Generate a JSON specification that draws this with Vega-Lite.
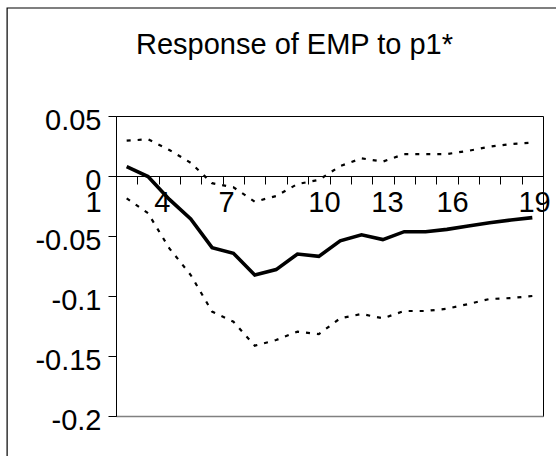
{
  "$schema": "https://vega.github.io/schema/vega-lite/v6.json",
  "width": 427,
  "height": 300,
  "autosize": {"type": "none"},
  "padding": {"left": 116, "top": 116, "right": 13, "bottom": 40},
  "background": "white",
  "title": {
    "text": "Response of EMP to p1*",
    "font": "Liberation Sans",
    "fontSize": 29,
    "fontWeight": "normal",
    "color": "black",
    "anchor": "middle",
    "frame": "group",
    "dx": -35,
    "offset": -53
  },
  "config": {
    "view": {"stroke": "black", "strokeWidth": 1},
    "font": "Liberation Sans",
    "axis": {
      "labelFont": "Liberation Sans",
      "labelFontSize": 29,
      "labelColor": "black",
      "domainColor": "black",
      "tickColor": "black",
      "grid": false,
      "title": null
    }
  },
  "datasets": {
    "irf": [
      {"period": 1, "series": "response", "value": 0.0078},
      {"period": 2, "series": "response", "value": -0.0005},
      {"period": 3, "series": "response", "value": -0.0195},
      {"period": 4, "series": "response", "value": -0.0358},
      {"period": 5, "series": "response", "value": -0.0597},
      {"period": 6, "series": "response", "value": -0.0644},
      {"period": 7, "series": "response", "value": -0.0825},
      {"period": 8, "series": "response", "value": -0.078},
      {"period": 9, "series": "response", "value": -0.065},
      {"period": 10, "series": "response", "value": -0.067},
      {"period": 11, "series": "response", "value": -0.054},
      {"period": 12, "series": "response", "value": -0.049},
      {"period": 13, "series": "response", "value": -0.053},
      {"period": 14, "series": "response", "value": -0.0464},
      {"period": 15, "series": "response", "value": -0.0464},
      {"period": 16, "series": "response", "value": -0.0445},
      {"period": 17, "series": "response", "value": -0.0417},
      {"period": 18, "series": "response", "value": -0.039},
      {"period": 19, "series": "response", "value": -0.0367},
      {"period": 20, "series": "response", "value": -0.0347},
      {"period": 1, "series": "upper", "value": 0.0294},
      {"period": 2, "series": "upper", "value": 0.0306},
      {"period": 3, "series": "upper", "value": 0.0217},
      {"period": 4, "series": "upper", "value": 0.011},
      {"period": 5, "series": "upper", "value": -0.006},
      {"period": 6, "series": "upper", "value": -0.0094},
      {"period": 7, "series": "upper", "value": -0.0214},
      {"period": 8, "series": "upper", "value": -0.0167},
      {"period": 9, "series": "upper", "value": -0.0067},
      {"period": 10, "series": "upper", "value": -0.0033},
      {"period": 11, "series": "upper", "value": 0.0083},
      {"period": 12, "series": "upper", "value": 0.0147},
      {"period": 13, "series": "upper", "value": 0.012},
      {"period": 14, "series": "upper", "value": 0.0183},
      {"period": 15, "series": "upper", "value": 0.0183},
      {"period": 16, "series": "upper", "value": 0.0183},
      {"period": 17, "series": "upper", "value": 0.021},
      {"period": 18, "series": "upper", "value": 0.0244},
      {"period": 19, "series": "upper", "value": 0.0267},
      {"period": 20, "series": "upper", "value": 0.0278},
      {"period": 1, "series": "lower", "value": -0.0186},
      {"period": 2, "series": "lower", "value": -0.031},
      {"period": 3, "series": "lower", "value": -0.0603},
      {"period": 4, "series": "lower", "value": -0.0825},
      {"period": 5, "series": "lower", "value": -0.113},
      {"period": 6, "series": "lower", "value": -0.1214},
      {"period": 7, "series": "lower", "value": -0.1414},
      {"period": 8, "series": "lower", "value": -0.1367},
      {"period": 9, "series": "lower", "value": -0.1297},
      {"period": 10, "series": "lower", "value": -0.1317},
      {"period": 11, "series": "lower", "value": -0.1186},
      {"period": 12, "series": "lower", "value": -0.115},
      {"period": 13, "series": "lower", "value": -0.1186},
      {"period": 14, "series": "lower", "value": -0.1125},
      {"period": 15, "series": "lower", "value": -0.1125},
      {"period": 16, "series": "lower", "value": -0.1106},
      {"period": 17, "series": "lower", "value": -0.1067},
      {"period": 18, "series": "lower", "value": -0.1025},
      {"period": 19, "series": "lower", "value": -0.1017},
      {"period": 20, "series": "lower", "value": -0.1}
    ],
    "frame": [{"x0": -4.6, "x1": 40, "y0": 0.14, "y1": -0.6}]
  },
  "resolve": {"axis": {"x": "independent", "y": "independent"}},
  "layer": [
    {
      "data": {"name": "frame"},
      "mark": {"type": "rect", "fill": null, "fillOpacity": 0, "stroke": "black", "strokeWidth": 1.2, "clip": false},
      "encoding": {
        "x": {
          "field": "x0", "type": "quantitative",
          "scale": {"domain": [0.5, 20.5], "nice": false, "zero": false},
          "axis": {"orient": "bottom", "domainColor": "#808080", "domainWidth": 1.4, "ticks": false, "labels": false, "title": null}
        },
        "x2": {"field": "x1"},
        "y": {
          "field": "y0", "type": "quantitative",
          "scale": {"domain": [-0.2, 0.05], "nice": false, "zero": false},
          "axis": null
        },
        "y2": {"field": "y1"}
      }
    },
    {
      "data": {"name": "irf"},
      "transform": [{"filter": "datum.series !== 'response'"}],
      "mark": {"type": "line", "color": "black", "strokeWidth": 2.2, "strokeDash": [4, 7]},
      "encoding": {
        "x": {
          "field": "period", "type": "quantitative",
          "scale": {"domain": [0.5, 20.5], "nice": false, "zero": false},
          "axis": {
            "orient": "bottom", "offset": -240,
            "values": [0.5, 1.5, 2.5, 3.5, 4.5, 5.5, 6.5, 7.5, 8.5, 9.5, 10.5, 11.5, 12.5, 13.5, 14.5, 15.5, 16.5, 17.5, 18.5, 19.5, 20.5],
            "labels": false, "tickSize": 8, "domainWidth": 1, "title": null
          }
        },
        "y": {
          "field": "value", "type": "quantitative",
          "scale": {"domain": [-0.2, 0.05], "nice": false, "zero": false},
          "axis": {
            "orient": "left",
            "values": [-0.2, -0.15, -0.1, -0.05, 0, 0.05],
            "labelExpr": "'' + datum.value",
            "tickSize": 8, "labelPadding": 7, "labelOffset": 4, "title": null
          }
        },
        "detail": {"field": "series"}
      }
    },
    {
      "data": {"name": "irf"},
      "transform": [{"filter": "datum.series === 'response'"}],
      "mark": {"type": "line", "color": "black", "strokeWidth": 3.6},
      "encoding": {
        "x": {
          "field": "period", "type": "quantitative",
          "scale": {"domain": [0.5, 20.5], "nice": false, "zero": false},
          "axis": {
            "orient": "bottom", "offset": -240,
            "values": [0.5, 2.65, 5.65, 10.24, 13.19, 16.24, 20.08],
            "labelExpr": "datum.value < 1 ? '1' : datum.value < 3 ? '4' : datum.value < 6 ? '7' : datum.value < 11 ? '10' : datum.value < 14 ? '13' : datum.value < 17 ? '16' : '19'",
            "labelOffset": {"condition": {"test": "datum.value < 1", "value": -23}, "value": 0},
            "domain": false, "ticks": false, "tickSize": 8, "labelPadding": 12,
            "labelFlush": false, "labelOverlap": false, "labelBound": false, "title": null
          }
        },
        "y": {
          "field": "value", "type": "quantitative",
          "scale": {"domain": [-0.2, 0.05], "nice": false, "zero": false},
          "axis": null
        }
      }
    }
  ]
}
